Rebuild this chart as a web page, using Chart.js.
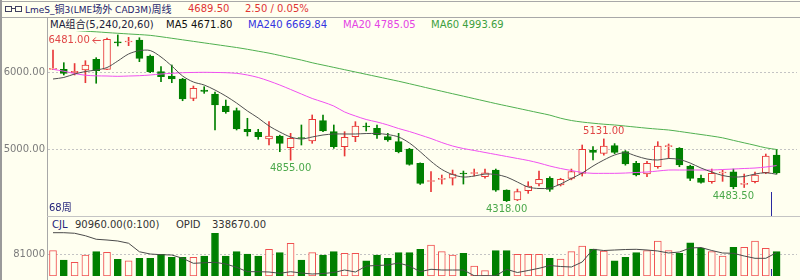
<!DOCTYPE html>
<html lang="zh-CN">
<head>
<meta charset="UTF-8">
<title>LmeS_铜3 周线</title>
<script src="https://cdn.jsdelivr.net/npm/chart.js@4.4.1/dist/chart.umd.min.js"></script>
<style>
	body { margin: 0; background: #fffff0; }
	#wrap { position: relative; width: 800px; height: 280px; background: #fffff0; overflow: hidden;
		font-family: "DejaVu Sans", "Noto Sans CJK SC", sans-serif; font-size: 10px; }
	.t { position: absolute; white-space: nowrap; line-height: 12px; }
	.ttl { font-size: 9px; }
	.ttl span { font-family: "Noto Sans CJK SC", sans-serif; font-size: 10px; }
	.ln { position: absolute; background: #a8a8a8; }
	canvas { position: absolute; left: 0; }
	.ico { position: absolute; top: 6px; width: 5px; height: 4px; border: 1px solid #404060; }
</style>
</head>
<body>
<div id="wrap">
	<!-- frame lines -->
	<div class="ln" style="left:0;top:1px;width:800px;height:1px;"></div>
	<div class="ln" style="left:0;top:17px;width:800px;height:1px;"></div>
	<div class="ln" style="left:0;top:0;width:2px;height:280px;background:#9a9a9a;"></div>
	<div class="ln" style="left:47px;top:17px;width:1px;height:263px;"></div>
	<div class="ln" style="left:47px;top:216px;width:753px;height:1px;background:#c4c4c4;"></div>

	<!-- title -->
	<div class="ico" style="left:5px;"></div>
	<div class="ln" style="left:12px;top:8px;width:3px;height:1px;background:#404060;"></div>
	<div class="ico" style="left:15px;"></div>
	<div class="t ttl" style="left:25px;top:3px;color:#1c1c6a;">LmeS_<span>铜</span>3(LME<span>场外</span> CAD3M)<span>周线</span></div>
	<div class="t" style="left:188px;top:3px;color:#e03434;">4689.50</div>
	<div class="t" style="left:245px;top:3px;color:#e03434;">2.50 / 0.05%</div>

	<!-- MA legend -->
	<div class="t" style="left:50px;top:19px;color:#20203a;">MA组合(5,240,20,60)</div>
	<div class="t" style="left:166px;top:19px;color:#111;">MA5 4671.80</div>
	<div class="t" style="left:248px;top:19px;color:#3434e0;">MA240 6669.84</div>
	<div class="t" style="left:343px;top:19px;color:#e444e4;">MA20 4785.05</div>
	<div class="t" style="left:431px;top:19px;color:#3ea03e;">MA60 4993.69</div>

	<canvas id="priceChart" width="800" height="185" style="top:31px;"></canvas>
	<div class="t" style="left:49px;top:202px;color:#24247a;">68周</div>

	<!-- volume legend -->
	<div class="t" style="left:52px;top:219px;color:#24247a;">CJL</div>
	<div class="t" style="left:75px;top:219px;color:#333;">90960.00(0:100)</div>
	<div class="t" style="left:176px;top:219px;color:#333;">OPID</div>
	<div class="t" style="left:212px;top:219px;color:#333;">338670.00</div>

	<canvas id="volChart" width="800" height="59" style="top:217px;"></canvas>
</div>

<script>
	// weekly candles (68 weeks)
	var opens = [6035, 6035, 5990, 6026, 6165, 6035, 6385, 6390, 6416, 6208,
		6004, 5948, 5909, 5658, 5766, 5714, 5558, 5499, 5256, 5217,
		5130, 5169, 5017, 5142, 5104, 5368, 5225, 5030, 5160, 5294,
		5269, 5160, 5095, 5000, 4814, 4578, 4605, 4620, 4682, 4682,
		4640, 4727, 4467, 4338, 4459, 4545, 4620, 4532, 4619, 4684,
		4987, 4944, 5043, 4965, 4814, 4675, 4770, 5030, 5009, 4779,
		4619, 4576, 4688, 4705, 4540, 4576, 4692, 4922];
	var highs = [6286, 6121, 6110, 6147, 6186, 6440, 6481, 6450, 6445, 6221,
		6069, 6091, 5918, 5818, 5809, 5740, 5636, 5532, 5399, 5256,
		5355, 5180, 5204, 5312, 5442, 5442, 5312, 5225, 5355, 5338,
		5312, 5204, 5204, 5009, 4820, 4706, 4662, 4727, 4714, 4740,
		4740, 4740, 4470, 4480, 4575, 4714, 4640, 4620, 4740, 5052,
		5030, 5131, 5070, 4980, 4840, 4840, 5095, 5065, 5018, 4790,
		4660, 4740, 4727, 4740, 4675, 4700, 4935, 4996];
	var lows = [6030, 5961, 5961, 5861, 5854, 6030, 6338, 6342, 6134, 5991,
		5874, 5861, 5627, 5627, 5723, 5247, 5464, 5247, 5169, 5126,
		5052, 4965, 4855, 5052, 5074, 5225, 5009, 4909, 5095, 5234,
		5139, 5100, 4950, 4790, 4540, 4446, 4545, 4532, 4545, 4650,
		4620, 4450, 4318, 4330, 4424, 4520, 4450, 4520, 4600, 4649,
		4857, 4920, 4940, 4790, 4650, 4640, 4750, 4879, 4770, 4590,
		4555, 4555, 4580, 4483.5, 4500, 4560, 4680, 4675];
	var closes = [6045, 5983, 6010, 6091, 6017, 6425, 6378, 6398, 6178, 6004,
		5939, 5909, 5649, 5788, 5748, 5571, 5484, 5260, 5225, 5160,
		5169, 5074, 5139, 5136, 5386, 5234, 5030, 5152, 5299, 5286,
		5182, 5117, 4965, 4801, 4554, 4590, 4615, 4675, 4676, 4688,
		4692, 4467, 4330, 4446, 4520, 4606, 4476, 4606, 4706, 4996,
		4957, 5039, 4957, 4805, 4662, 4814, 5039, 5038, 4792, 4619,
		4567, 4684, 4694, 4510, 4548, 4662, 4909, 4689.5];

	// moving averages
	var ma5 = [5909, 5929, 5974, 6006, 6026, 6058, 6143, 6234, 6277, 6279,
		6195, 6078, 5948, 5870, 5831, 5766, 5688, 5597, 5494, 5403,
		5299, 5221, 5156, 5130, 5156, 5182, 5195, 5195, 5195, 5201,
		5201, 5188, 5156, 5078, 4965, 4840, 4735, 4668, 4636, 4649,
		4675, 4669, 4636, 4571, 4506, 4487, 4493, 4545, 4617, 4688,
		4779, 4857, 4922, 4952, 4909, 4870, 4857, 4877, 4864, 4818,
		4753, 4701, 4656, 4636, 4643, 4675, 4692, 4672];
	var ma20 = [6035, 6010, 5980, 5958, 5950, 5948, 5944, 5948, 5952, 5961,
		5974, 5983, 5991, 5994, 5996, 5994, 5991, 5983, 5961, 5929,
		5883, 5831, 5773, 5714, 5656, 5610, 5558, 5481, 5429, 5383,
		5351, 5312, 5266, 5227, 5182, 5136, 5084, 5039, 5006, 4981,
		4955, 4929, 4903, 4877, 4851, 4818, 4779, 4747, 4721, 4695,
		4684, 4684, 4684, 4688, 4695, 4701, 4714, 4727, 4727, 4727,
		4727, 4727, 4734, 4740, 4747, 4753, 4766, 4785];
	var ma60 = [6560, 6550, 6540, 6530, 6522, 6512, 6503, 6494, 6486, 6476,
		6458, 6438, 6418, 6398, 6378, 6358, 6338, 6318, 6295, 6270,
		6245, 6215, 6185, 6155, 6120, 6090, 6060, 6030, 6000, 5970,
		5940, 5910, 5880, 5848, 5815, 5782, 5750, 5718, 5686, 5654,
		5622, 5590, 5560, 5530, 5500, 5470, 5440, 5400, 5370, 5350,
		5335, 5322, 5312, 5298, 5284, 5270, 5258, 5247, 5228, 5208,
		5188, 5168, 5145, 5112, 5080, 5048, 5015, 4994];

	// volume (CJL) and open interest (OPID)
	var vols = [94500, 59700, 51000, 78000, 90700, 88000, 62000, 57000, 66000, 66000,
		81000, 70000, 70000, 70000, 74600, 159000, 74600, 90700, 82000, 74600,
		99500, 87000, 122000, 59700, 87000, 78000, 90700, 84600, 84600, 57000,
		78000, 66000, 87000, 87000, 99500, 115700, 90700, 78000, 84600, 37000,
		20000, 94500, 94500, 81000, 81000, 81000, 66000, 63000, 90700, 112000,
		100700, 93000, 57000, 70000, 87000, 94500, 130600, 94500, 84600, 124000,
		103000, 90700, 74600, 107000, 107000, 130600, 103000, 90960];
	var opid = [418200, 418200, 416000, 406000, 392000, 389000, 385000, 376000, 342000, 333000,
		330200, 329000, 315800, 295800, 298000, 299800, 293000, 279800, 262200, 262200,
		261000, 255800, 262200, 257000, 253000, 255000, 259000, 269000, 261000, 285000,
		287000, 289000, 297000, 285000, 262200, 271800, 269000, 269000, 269000, 246200,
		246200, 246200, 271800, 259000, 267000, 275800, 287000, 283000, 281000, 301000,
		351800, 347000, 349000, 351000, 351800, 349000, 345000, 337000, 341000, 357000,
		359000, 347000, 337000, 335800, 325000, 315800, 315800, 338670];

	// axis ticks and marked extremes
	var priceTicks = [5000, 6000];
	var volTicks = [81000];
	var highMarks = [51];
	var lowMarks = [22, 42, 63];
	var topMark = 6;
	var cursorAt = 66.5;

	var RED = '#e83838', GREEN = '#008000', BG = '#fffff0';
	var LBL_RED = '#e04646', LBL_GREEN = '#4aa84a';

	function isUp(i) { return closes[i] >= opens[i]; }
	function xy(arr) { return arr.map(function (v, i) { return { x: i, y: v }; }); }

	var xMin = -0.463, xStep = 10.8;
	function xAxis() {
		return { type: 'linear', display: false, offset: false, min: xMin, max: xMin + 749 / xStep };
	}
	function fitLeft(scale) { scale.width = 48; scale.paddingTop = 0; scale.paddingBottom = 0; }

	// extremes + cursor line
	var marksPlugin = {
		id: 'marks',
		afterDatasetsDraw: function (chart) {
			var ctx = chart.ctx, x = chart.scales.x, y = chart.scales.y, area = chart.chartArea;
			ctx.save();
			ctx.font = '10px "DejaVu Sans"';
			ctx.textAlign = 'center';
			ctx.textBaseline = 'middle';
			ctx.fillStyle = LBL_RED;
			highMarks.forEach(function (i) {
				ctx.fillText(highs[i].toFixed(2), x.getPixelForValue(i), y.getPixelForValue(highs[i]) - 8);
			});
			ctx.fillStyle = LBL_GREEN;
			lowMarks.forEach(function (i) {
				ctx.fillText(lows[i].toFixed(2), x.getPixelForValue(i), y.getPixelForValue(lows[i]) + 8);
			});
			// highest point, written to the left with a small arrow
			var rx = x.getPixelForValue(topMark) - 28, ty = y.getPixelForValue(highs[topMark]) + 5;
			ctx.fillStyle = LBL_RED;
			ctx.textAlign = 'right';
			ctx.fillText(highs[topMark].toFixed(2), rx, ty);
			ctx.strokeStyle = LBL_RED;
			ctx.lineWidth = 1;
			ctx.beginPath();
			ctx.moveTo(rx + 3, ty + 0.5); ctx.lineTo(rx + 11, ty + 0.5);
			ctx.moveTo(rx + 6, ty - 2.5); ctx.lineTo(rx + 3, ty + 0.5); ctx.lineTo(rx + 6, ty + 3.5);
			ctx.stroke();
			ctx.fillRect(rx + 13, ty, 1, 1);
			// cursor
			var cx = Math.round(x.getPixelForValue(cursorAt)) + 0.5;
			ctx.strokeStyle = '#2a2aa0';
			ctx.beginPath();
			ctx.moveTo(cx, area.bottom - 24); ctx.lineTo(cx, area.bottom);
			ctx.stroke();
			ctx.restore();
		}
	};

	var priceChart = new Chart(document.getElementById('priceChart'), {
		type: 'bar',
		data: {
			datasets: [{
				type: 'line', label: 'MA5', data: xy(ma5), borderColor: '#505050', borderWidth: 1,
				pointRadius: 0, tension: 0.3, order: 1
			}, {
				type: 'line', label: 'MA20', data: xy(ma20), borderColor: '#f050f0', borderWidth: 1,
				pointRadius: 0, tension: 0.3, order: 1
			}, {
				type: 'line', label: 'MA60', data: xy(ma60), borderColor: '#50b050', borderWidth: 1,
				pointRadius: 0, tension: 0.3, order: 1
			}, {
				label: 'body',
				data: opens.map(function (o, i) { return { x: i, y: [o, closes[i]] }; }),
				backgroundColor: function (c) { return isUp(c.dataIndex) ? BG : GREEN; },
				borderColor: function (c) { return isUp(c.dataIndex) ? RED : GREEN; },
				borderWidth: 1, borderSkipped: false, barThickness: 7, minBarLength: 1,
				grouped: false, order: 2
			}, {
				label: 'wick',
				data: lows.map(function (l, i) { return { x: i, y: [l, highs[i]] }; }),
				backgroundColor: function (c) { return isUp(c.dataIndex) ? RED : GREEN; },
				borderWidth: 0, barThickness: 1, grouped: false, order: 3
			}]
		},
		plugins: [marksPlugin],
		options: {
			responsive: false,
			animation: false,
			devicePixelRatio: 1,
			layout: { padding: { left: 0, right: 3, top: 0, bottom: 0 } },
			plugins: { legend: { display: false }, tooltip: { enabled: false } },
			scales: {
				x: xAxis(),
				y: {
					min: 4130, max: 6532.5,
					afterBuildTicks: function (s) { s.ticks = priceTicks.map(function (v) { return { value: v }; }); },
					afterFit: fitLeft,
					ticks: {
						padding: 3, color: '#7c7c7c', font: { family: 'DejaVu Sans', size: 10 },
						callback: function (v) { return v.toFixed(2); }
					},
					grid: { color: '#c4c4c4', drawTicks: false },
					border: { display: false, dash: [2, 2] }
				}
			}
		}
	});

	var volCursor = {
		id: 'volCursor',
		afterDatasetsDraw: function (chart) {
			var ctx = chart.ctx, area = chart.chartArea;
			var cx = Math.round(chart.scales.x.getPixelForValue(cursorAt)) + 0.5;
			ctx.save();
			ctx.strokeStyle = '#2a2aa0';
			ctx.beginPath();
			ctx.moveTo(cx, area.bottom - 7); ctx.lineTo(cx, area.bottom);
			ctx.stroke();
			ctx.restore();
		}
	};

	var volChart = new Chart(document.getElementById('volChart'), {
		type: 'bar',
		data: {
			datasets: [{
				type: 'line', label: 'OPID', data: xy(opid), yAxisID: 'yo',
				borderColor: '#4a4a4a', borderWidth: 1, pointRadius: 0, tension: 0, order: 1
			}, {
				label: 'CJL',
				data: xy(vols),
				backgroundColor: function (c) { return isUp(c.dataIndex) ? BG : GREEN; },
				borderColor: function (c) { return isUp(c.dataIndex) ? '#f05050' : GREEN; },
				borderWidth: 1, borderSkipped: false, barThickness: 7, grouped: false, order: 2
			}]
		},
		plugins: [volCursor],
		options: {
			responsive: false,
			animation: false,
			devicePixelRatio: 1,
			layout: { padding: { left: 0, right: 3, top: 0, bottom: 0 } },
			plugins: { legend: { display: false }, tooltip: { enabled: false } },
			scales: {
				x: xAxis(),
				y: {
					min: 0, max: 220000,
					afterBuildTicks: function (s) { s.ticks = volTicks.map(function (v) { return { value: v }; }); },
					afterFit: fitLeft,
					ticks: { padding: 3, color: '#7c7c7c', font: { family: 'DejaVu Sans', size: 10 } ,
						callback: function (v) { return String(v); } },
					grid: { color: '#c4c4c4', drawTicks: false },
					border: { display: false, dash: [2, 2] }
				},
				yo: { display: false, min: 245000, max: 481000 }
			}
		}
	});
</script>
</body>
</html>
